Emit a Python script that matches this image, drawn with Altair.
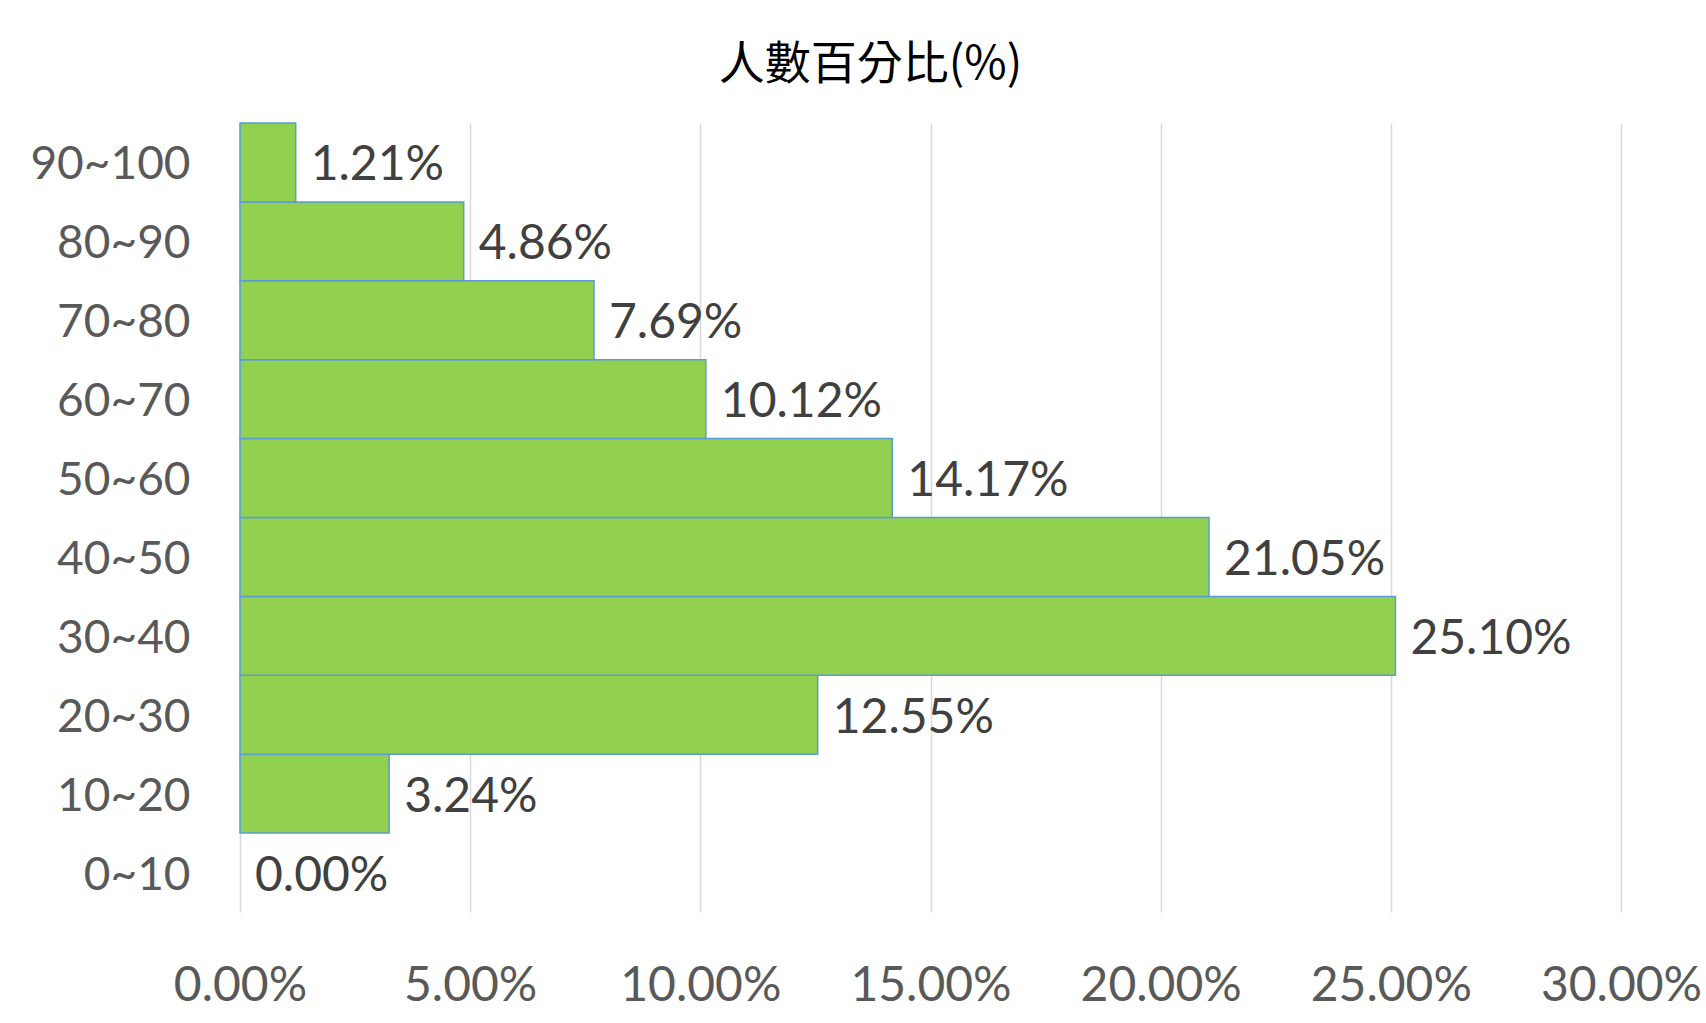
import altair as alt
import pandas as pd

categories = ["0~10", "10~20", "20~30", "30~40", "40~50", "50~60", "60~70", "70~80", "80~90", "90~100"]
percents = [0.00, 3.24, 12.55, 25.10, 21.05, 14.17, 10.12, 7.69, 4.86, 1.21]
x_ticks = [0.0, 0.05, 0.10, 0.15, 0.20, 0.25, 0.30]

df = pd.DataFrame({
    "range": categories,
    "value": [p / 100 for p in percents],
})

order = list(reversed(categories))
FONT = "Lato"
FS = 48

y_enc = alt.Y("range:N", sort=order, title=None,
              scale=alt.Scale(paddingInner=0, paddingOuter=0),
              axis=alt.Axis(ticks=False, domain=False, labelFont=FONT, labelFontSize=46,
                            labelColor="#595959", labelPadding=50, labelOffset=3, grid=False))
x_enc = alt.X("value:Q", title=None,
              scale=alt.Scale(domain=[0, 0.30], nice=False),
              axis=alt.Axis(values=x_ticks, format=".2%", ticks=False, domain=False,
                            labelFont=FONT, labelFontSize=FS, labelColor="#595959",
                            labelPadding=50, grid=True, gridColor="#d9d9d9", gridWidth=1.5,
                            labelFlush=False))

bars = alt.Chart(df).mark_bar(color="#92D050", stroke="#5B9BD5", strokeWidth=1.5).encode(
    x=x_enc, y=y_enc,
    strokeOpacity=alt.condition(alt.datum.value > 0, alt.value(1), alt.value(0)),
)

labels = alt.Chart(df).mark_text(align="left", baseline="middle", dx=15, dy=4,
                                 font=FONT, fontSize=FS, color="#404040").encode(
    x="value:Q", y=alt.Y("range:N", sort=order),
    text=alt.Text("value:Q", format=".2%")
)

chart = (bars + labels).properties(
    width=1381, height=789,
    title=alt.TitleParams("人數百分比(%)", font="Noto Sans CJK TC", fontSize=46,
                          fontWeight="normal", color="#000000", anchor="middle",
                          dx=-60, offset=33),
    autosize=alt.AutoSizeParams(type="none"),
    padding={"left": 240, "top": 123, "right": 85, "bottom": 111},
    background="white",
).configure_view(stroke=None)

chart.save("out.html", embed_options={"renderer": "svg", "actions": False})
